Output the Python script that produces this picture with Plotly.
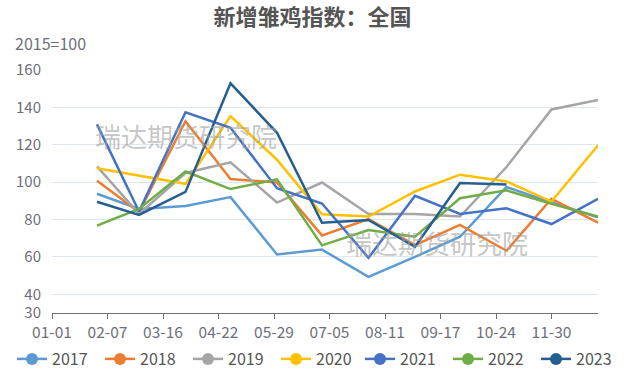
import plotly.graph_objects as go

dates = ["2023-01-31", "2023-02-28", "2023-03-31", "2023-04-30", "2023-05-31", "2023-06-30",
         "2023-07-31", "2023-08-31", "2023-09-30", "2023-10-31", "2023-11-30", "2023-12-31"]

years = ["2017", "2018", "2019", "2020", "2021", "2022", "2023"]
s2017 = [93.8, 85.7, 87.3, 92.0, 61.3, 63.9, 49.3, 60.0, 70.8, 97.4, 89.1, 81.2]
s2018 = [100.8, 84.0, 132.6, 101.7, 99.8, 71.5, 80.2, 66.3, 77.1, 63.3, 91.1, 78.3]
s2019 = [108.4, 83.0, 104.9, 110.6, 89.1, 99.8, 83.0, 83.0, 81.6, 108.1, 138.9, 143.9]
s2020 = [107.4, 103.5, 99.1, 135.3, 112.0, 82.8, 81.6, 95.0, 104.0, 100.4, 89.6, 119.7]
s2021 = [130.9, 84.3, 137.4, 129.1, 96.8, 88.6, 59.5, 92.7, 83.0, 86.0, 77.6, 91.1]
s2022 = [76.7, 85.7, 105.7, 96.3, 101.5, 66.2, 74.4, 70.8, 91.4, 95.6, 88.4, 81.6]
s2023 = [89.5, 82.5, 94.8, 152.9, 126.4, 78.3, 79.8, 65.4, 99.5, 98.8, None, None]
series = [s2017, s2018, s2019, s2020, s2021, s2022, s2023]
colors = ["#5B9BD5", "#ED7D31", "#A5A5A5", "#FFC000", "#4472C4", "#70AD47", "#255E91"]

ytick_vals = [30, 40, 60, 80, 100, 120, 140, 160]

L, R, T, B = 52, 27, 70, 62
W, H = 625, 375
PW, PH = W - L - R, H - T - B


def px(x):
    return (x - L) / PW


def py(y):
    return (H - B - y) / PH


fig = go.Figure()
for name, vals, c in zip(years, series, colors):
    fig.add_trace(go.Scatter(x=dates, y=vals, mode="lines", name=name,
                             line=dict(color=c, width=2.5), showlegend=False,
                             connectgaps=True, hoverinfo="skip"))
for i, (name, c) in enumerate(zip(years, colors)):
    fig.add_trace(go.Scatter(x=[None], y=[None], mode="lines+markers", name=name,
                             legend="legend" if i < 4 else "legend2",
                             line=dict(color=c, width=2.5),
                             marker=dict(color=c, size=12, symbol="circle")))

wm_font = dict(family="Noto Sans CJK SC", size=26, color="rgba(160,160,160,0.6)")
fig.add_annotation(text="瑞达期货研究院", xref="paper", yref="paper", x=px(186), y=py(135),
                   xanchor="center", yanchor="middle", showarrow=False, font=wm_font)
fig.add_annotation(text="瑞达期货研究院", xref="paper", yref="paper", x=px(437), y=py(242),
                   xanchor="center", yanchor="middle", showarrow=False, font=wm_font)
fig.add_annotation(text="2015=100", xref="paper", yref="paper", x=px(13), y=py(43),
                   xanchor="left", yanchor="middle", showarrow=False,
                   font=dict(family="Noto Sans CJK SC", size=16, color="#6E7079"))

leg_common = dict(orientation="h", xref="container", xanchor="left",
                  yref="container", y=1 - 359 / 375, yanchor="middle",
                  itemwidth=30, entrywidth=43, entrywidthmode="pixels",
                  font=dict(size=16, color="#555555"))

fig.update_layout(
    width=W, height=H,
    margin=dict(l=L, r=R, t=T, b=B, autoexpand=False),
    paper_bgcolor="white", plot_bgcolor="white",
    title=dict(text="<b>新增雏鸡指数：全国</b>", x=0.5, xanchor="center", y=1 - 17 / 375, yanchor="middle",
               font=dict(family="Noto Sans CJK SC", size=22, color="#555555")),
    font=dict(family="Noto Sans CJK SC", color="#6E7079"),
    legend=dict(x=(18 - 6) / W, **leg_common),
    legend2=dict(x=(18 + 4 * 86.5 - 4) / W, **leg_common),
    xaxis=dict(type="date", range=["2023-01-01", "2023-12-31"], tick0="2023-01-01",
               dtick=37 * 86400000, tickformat="%m-%d", showgrid=False, automargin=False,
               showline=True, linecolor="#6E7079", linewidth=1,
               ticks="outside", ticklen=5, tickcolor="#6E7079",
               tickfont=dict(size=15.5, color="#6E7079"), zeroline=False),
    yaxis=dict(range=[30, 160], tickvals=ytick_vals, showgrid=True, gridcolor="#E0E6F1",
               gridwidth=1, zeroline=False, showline=False, automargin=False,
               tickfont=dict(size=15, color="#6E7079"), ticklabelstandoff=10),
)

fig.write_html("out.html", config={"displayModeBar": False},
               post_script="document.body.style.margin='0';")
